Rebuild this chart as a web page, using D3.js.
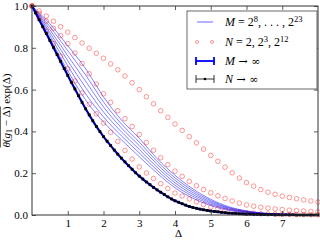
<!DOCTYPE html>
<html>
<head>
<meta charset="utf-8">
<script src="https://cdn.jsdelivr.net/npm/d3@7"></script>
<style>
  body { margin: 0; background: #fff; }
  svg { display: block; }
  text { font-family: "Liberation Serif", "DejaVu Serif", serif; fill: #000; }
</style>
</head>
<body>
<div id="chart"></div>
<script>
// x grids (Δ) the series were sampled on
var lineGrid = d3.range(0, 17).map(function(i) { return i * 0.5; });
var circleGrid = d3.range(0, 41).map(function(i) { return i * 0.2; });
var limitGrid = d3.range(0, 81).map(function(i) { return i * 0.1; });

var xTicks = [1, 2, 3, 4, 5, 6, 7];
var yTicks = [0, 0.2, 0.4, 0.6, 0.8, 1.0];

// finite M curves (thin blue), on lineGrid
var mNames = ["2^8", "2^11", "2^14", "2^17", "2^20", "2^23"];
var m8  = [1, 0.915, 0.81, 0.70, 0.565, 0.455, 0.367, 0.27, 0.19, 0.125, 0.075, 0.04, 0.02, 0.009, 0.004, 0.002, 0.001];
var m11 = [1, 0.901, 0.786, 0.67, 0.541, 0.436, 0.349, 0.256, 0.178, 0.116, 0.069, 0.036, 0.018, 0.008, 0.004, 0.002, 0.001];
var m14 = [1, 0.887, 0.762, 0.64, 0.517, 0.417, 0.332, 0.242, 0.166, 0.107, 0.063, 0.033, 0.016, 0.007, 0.003, 0.002, 0.001];
var m17 = [1, 0.873, 0.738, 0.61, 0.493, 0.398, 0.314, 0.228, 0.154, 0.098, 0.057, 0.029, 0.015, 0.007, 0.003, 0.001, 0];
var m20 = [1, 0.859, 0.714, 0.58, 0.469, 0.379, 0.297, 0.214, 0.142, 0.089, 0.051, 0.026, 0.013, 0.006, 0.002, 0.001, 0];
var m23 = [1, 0.845, 0.69, 0.55, 0.445, 0.36, 0.279, 0.2, 0.13, 0.08, 0.045, 0.022, 0.011, 0.005, 0.002, 0.001, 0];

// finite N curves (red circles), on circleGrid
var n2 = [1.000, 0.976, 0.952, 0.927, 0.901, 0.875, 0.849, 0.823, 0.798, 0.774, 0.750,
          0.723, 0.695, 0.665, 0.633, 0.600, 0.566, 0.532, 0.499, 0.467, 0.435,
          0.405, 0.375, 0.345, 0.315, 0.285, 0.257, 0.229, 0.202, 0.177, 0.155,
          0.138, 0.122, 0.109, 0.099, 0.090, 0.084, 0.078, 0.072, 0.067, 0.062];
var n8 = [1.000, 0.964, 0.928, 0.893, 0.858, 0.820, 0.775, 0.725, 0.676, 0.627, 0.580,
          0.539, 0.499, 0.461, 0.423, 0.385, 0.347, 0.310, 0.274, 0.241, 0.210,
          0.185, 0.161, 0.140, 0.122, 0.106, 0.092, 0.079, 0.067, 0.057, 0.048,
          0.042, 0.037, 0.033, 0.029, 0.026, 0.023, 0.021, 0.019, 0.017, 0.015];
var n4096 = [1.000, 0.940, 0.880, 0.820, 0.760, 0.700, 0.641, 0.584, 0.530, 0.484, 0.440,
             0.396, 0.352, 0.309, 0.268, 0.230, 0.201, 0.175, 0.150, 0.127, 0.105,
             0.091, 0.077, 0.063, 0.050, 0.038, 0.030, 0.023, 0.018, 0.014, 0.010,
             0.008, 0.006, 0.005, 0.004, 0.003, 0.003, 0.002, 0.002, 0.001, 0.001];

// N -> infinity (black, errorbars), on limitGrid
var nInf = [1.000, 0.967, 0.934, 0.901, 0.868, 0.835, 0.802, 0.768, 0.735, 0.701,
            0.668, 0.635, 0.603, 0.571, 0.539, 0.508, 0.479, 0.451, 0.424, 0.399,
            0.375, 0.353, 0.332, 0.311, 0.291, 0.272, 0.254, 0.236, 0.219, 0.202,
            0.186, 0.172, 0.158, 0.145, 0.132, 0.120, 0.109, 0.098, 0.087, 0.077,
            0.068, 0.061, 0.054, 0.047, 0.041, 0.036, 0.032, 0.028, 0.025, 0.022,
            0.019, 0.017, 0.015, 0.013, 0.011, 0.009, 0.008, 0.007, 0.006, 0.005,
            0.004, 0.004, 0.003, 0.003, 0.002, 0.002, 0.002, 0.002, 0.001, 0.001,
            0.001, 0.001, 0.001, 0.001, 0, 0, 0, 0, 0, 0, 0];
// M -> infinity lies on top of the N -> infinity curve
var mInf = nInf.slice();

var width = 320, height = 240;
var margin = {top: 6, right: 2, bottom: 25, left: 32};

var svg = d3.select("#chart").append("svg")
    .attr("width", width)
    .attr("height", height);

var x = d3.scaleLinear().domain([0, 8]).range([margin.left, width - margin.right]);
var y = d3.scaleLinear().domain([0, 1]).range([height - margin.bottom, margin.top]);

var plot = svg.append("g");

function line(grid) {
  return d3.line()
    .x(function(d, i) { return x(grid[i]); })
    .y(function(d) { return y(d); })
    .curve(d3.curveMonotoneX);
}

// thin blue lines
[m8, m11, m14, m17, m20, m23].forEach(function(s) {
  plot.append("path")
    .attr("d", line(lineGrid)(s))
    .attr("fill", "none")
    .attr("stroke", "#0000ff")
    .attr("stroke-opacity", 0.55)
    .attr("stroke-width", 0.9);
});

// red open circles
[n2, n8, n4096].forEach(function(s) {
  plot.selectAll(null)
    .data(s)
    .enter()
    .append("circle")
      .attr("cx", function(d, i) { return x(circleGrid[i]); })
      .attr("cy", function(d) { return y(d); })
      .attr("r", 2.3)
      .attr("fill", "none")
      .attr("stroke", "#ff0000")
      .attr("stroke-opacity", 0.45)
      .attr("stroke-width", 0.9);
});

// M -> inf, thick blue
plot.append("path")
  .attr("d", line(limitGrid)(mInf))
  .attr("fill", "none")
  .attr("stroke", "#0000ff")
  .attr("stroke-width", 2.2);

// N -> inf, black with dots
plot.append("path")
  .attr("d", line(limitGrid)(nInf))
  .attr("fill", "none")
  .attr("stroke", "#000")
  .attr("stroke-width", 0.8);
plot.selectAll(null)
  .data(nInf)
  .enter()
  .append("rect")
    .attr("x", function(d, i) { return x(limitGrid[i]) - 1.4; })
    .attr("y", function(d) { return y(d) - 1.4; })
    .attr("width", 2.8)
    .attr("height", 2.8)
    .attr("fill", "#000");

// axes, ticks inward on all four sides
var fmt = d3.format(".1f");
var xb = svg.append("g").attr("transform", "translate(0," + y(0) + ")")
  .call(d3.axisBottom(x).tickValues(xTicks).tickSize(-4).tickPadding(4));
var xt = svg.append("g").attr("transform", "translate(0," + y(1) + ")")
  .call(d3.axisTop(x).tickValues(xTicks).tickSize(-4).tickFormat(""));
var yl = svg.append("g").attr("transform", "translate(" + x(0) + ",0)")
  .call(d3.axisLeft(y).tickValues(yTicks).tickSize(-4).tickPadding(4).tickFormat(fmt));
var yr = svg.append("g").attr("transform", "translate(" + x(8) + ",0)")
  .call(d3.axisRight(y).tickValues(yTicks).tickSize(-4).tickFormat(""));

[xb, xt, yl, yr].forEach(function(a) {
  a.select(".domain").remove();
  a.selectAll("line").attr("stroke", "#333").attr("stroke-width", 0.8);
  a.selectAll("text").style("font-size", "11px").style("font-family", "Liberation Serif, serif");
});

svg.append("rect")
  .attr("x", x(0)).attr("y", y(1))
  .attr("width", x(8) - x(0)).attr("height", y(0) - y(1))
  .attr("fill", "none").attr("stroke", "#333").attr("stroke-width", 1);

// axis labels
svg.append("text")
  .attr("x", x(4.1)).attr("y", 237)
  .attr("text-anchor", "middle")
  .style("font-size", "11px")
  .text("Δ");

var yg = svg.append("g")
  .attr("transform", "translate(10," + ((y(0) + y(1)) / 2) + ") rotate(-90)");
var yLab = yg.append("text").style("font-size", "11px");
yLab.append("tspan").style("font-style", "italic").text("θ");
yLab.append("tspan").text("(");
yLab.append("tspan").style("font-style", "italic").text("g");
yLab.append("tspan").attr("dy", 2).style("font-size", "8px").text("1");
yLab.append("tspan").attr("dy", -2).text(" − Δ)");
yLab.append("tspan").text(" exp(Δ)");
var labLen = yLab.node().getComputedTextLength();
var overLen = yLab.node().getSubStringLength(0, 9);
yLab.attr("x", -labLen / 2);
yg.append("line")
  .attr("x1", -labLen / 2).attr("x2", -labLen / 2 + overLen)
  .attr("y1", -9.5).attr("y2", -9.5)
  .attr("stroke", "#000").attr("stroke-width", 0.6);

// legend
var lg = svg.append("g");
lg.append("rect")
  .attr("x", 187).attr("y", 11).attr("width", 130).attr("height", 78)
  .attr("fill", "#fff").attr("stroke", "#444").attr("stroke-width", 0.8);

function label(yy, parts) {
  var t = lg.append("text").attr("x", 225).attr("y", yy + 4).style("font-size", "12px");
  var shift = 0;
  parts.forEach(function(p) {
    var s = t.append("tspan").text(p[0]);
    var want = p[1] === "sup" ? -4.5 : 0;
    if (want !== shift) { s.attr("dy", want - shift); shift = want; }
    if (p[1] === "sup") s.style("font-size", "8.5px");
    if (p[1] === "i") s.style("font-style", "italic");
    if (p[1] === "sym") s.style("font-family", "DejaVu Serif, serif").style("font-size", "11px");
  });
}

// M lines
lg.append("line").attr("x1", 197).attr("x2", 213).attr("y1", 22).attr("y2", 22)
  .attr("stroke", "#0000ff").attr("stroke-opacity", 0.6).attr("stroke-width", 1);
label(22, [["M", "i"], [" = 2"], ["8", "sup"], [", . . . , 2"], ["23", "sup"]]);

// N circles
[197, 212].forEach(function(cx) {
  lg.append("circle").attr("cx", cx).attr("cy", 42).attr("r", 1.5)
    .attr("fill", "none").attr("stroke", "#ff0000").attr("stroke-opacity", 0.5).attr("stroke-width", 0.8);
});
label(42, [["N", "i"], [" = 2, 2"], ["3", "sup"], [", 2"], ["12", "sup"]]);

// errorbar symbols
function errSym(yy, color, w, dot) {
  lg.append("line").attr("x1", 196).attr("x2", 214).attr("y1", yy).attr("y2", yy)
    .attr("stroke", color).attr("stroke-width", w);
  [196, 214].forEach(function(cx) {
    lg.append("line").attr("x1", cx).attr("x2", cx).attr("y1", yy - 4).attr("y2", yy + 4)
      .attr("stroke", color).attr("stroke-width", w);
  });
  if (dot) lg.append("circle").attr("cx", 205).attr("cy", yy).attr("r", 1.3).attr("fill", color);
}
errSym(61, "#0000ff", 1.8, false);
label(61, [["M", "i"], [" → ∞", "sym"]]);
errSym(79, "#000", 0.8, true);
label(79, [["N", "i"], [" → ∞", "sym"]]);
</script>
</body>
</html>
